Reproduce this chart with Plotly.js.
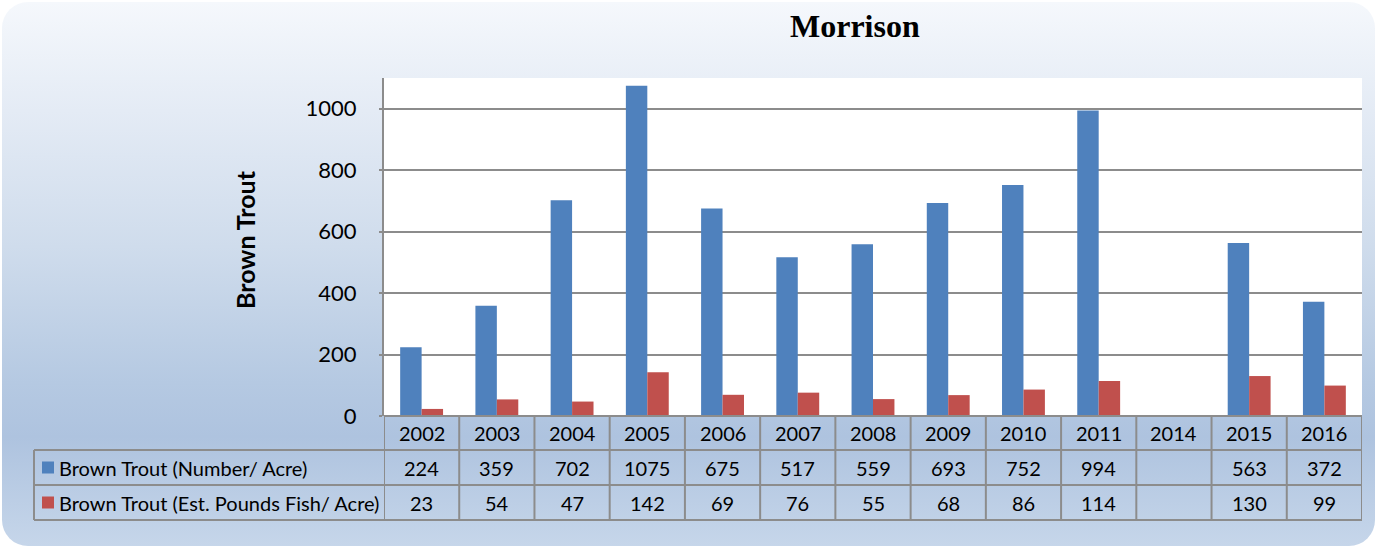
<!DOCTYPE html>
<html>
<head>
<meta charset="utf-8">
<script src="https://cdn.plot.ly/plotly-3.0.1.min.js"></script>
<style>
  html, body { margin: 0; padding: 0; background: #ffffff; }
  #bg {
    position: absolute; left: 2px; top: 2px; width: 1373px; height: 544px;
    border-radius: 26px;
    background: linear-gradient(to bottom, #f5f8fc 0%, #e4ebf5 20%, #cfdcec 45%, #b5c9e2 70%, #aec3df 80%, #c6d6ea 100%);
  }
  #chart { position: absolute; left: 0; top: 0; width: 1377px; height: 548px; }
</style>
</head>
<body>
<div id="bg"></div>
<div id="chart"></div>
<script>
// ---- data ----
const years = ['2002','2003','2004','2005','2006','2007','2008','2009','2010','2011','2014','2015','2016'];
const numberPerAcre = [224, 359, 702, 1075, 675, 517, 559, 693, 752, 994, null, 563, 372];
const poundsPerAcre = [23, 54, 47, 142, 69, 76, 55, 68, 86, 114, null, 130, 99];
const seriesNames = ['Brown Trout (Number/ Acre)', 'Brown Trout (Est. Pounds Fish/ Acre)'];
const yTicks = [0, 200, 400, 600, 800, 1000];
const chartTitle = 'Morrison';
const yTitle = 'Brown Trout';

// ---- layout helpers (pixel -> paper) ----
const W = 1377, H = 548;
const L = 384, R = 1362, T = 78, B = 416;
const px = x => (x - L) / (R - L);
const py = y => (B - y) / (B - T);

const colors = ['#4f81bd', '#c0504d'];
const lineCol = '#8c8c8c';
const font = 'Lato, "Open Sans", sans-serif';
const cellSize = 20;

const traces = [
  { type: 'bar', x: years, y: numberPerAcre, name: seriesNames[0], marker: { color: colors[0] }, hoverinfo: 'y' },
  { type: 'bar', x: years, y: poundsPerAcre, name: seriesNames[1], marker: { color: colors[1] }, hoverinfo: 'y' }
];

const rowY = [416, 450, 485, 520];
const shapes = [];
const annotations = [];

// horizontal table lines
shapes.push({ type: 'line', xref: 'paper', yref: 'paper', x0: 0, x1: 1, y0: py(rowY[0]), y1: py(rowY[0]), line: { color: lineCol, width: 2 } });
for (let r = 1; r < rowY.length; r++) {
  shapes.push({ type: 'line', xref: 'paper', yref: 'paper', x0: px(34), x1: 1, y0: py(rowY[r]), y1: py(rowY[r]), line: { color: lineCol, width: 2 } });
}
// vertical table lines (category boundaries)
for (let i = 0; i <= years.length; i++) {
  shapes.push({ type: 'line', xref: 'x', yref: 'paper', x0: i - 0.5, x1: i - 0.5, y0: py(rowY[0]), y1: py(rowY[3]), line: { color: lineCol, width: 2 } });
}
// left edge of the legend column
shapes.push({ type: 'line', xref: 'paper', yref: 'paper', x0: px(34), x1: px(34), y0: py(rowY[1]), y1: py(rowY[3]), line: { color: lineCol, width: 2 } });

// legend keys + names
const series = [numberPerAcre, poundsPerAcre];
for (let s = 0; s < 2; s++) {
  const cy = (rowY[s + 1] + rowY[s + 2]) / 2;
  shapes.push({ type: 'rect', xref: 'paper', yref: 'paper', x0: px(42), x1: px(54), y0: py(cy - 6), y1: py(cy + 6), fillcolor: colors[s], line: { width: 0 } });
  annotations.push({ xref: 'paper', yref: 'paper', x: px(57), y: py(cy), xanchor: 'left', yanchor: 'middle', showarrow: false,
    text: seriesNames[s], font: { family: font, size: cellSize, color: '#000' } });
}

// header row (years) and value cells — positioned by category index on the x axis
const headY = (rowY[0] + rowY[1]) / 2;
years.forEach((yr, i) => {
  annotations.push({ xref: 'x', yref: 'paper', x: i, y: py(headY), xanchor: 'center', yanchor: 'middle', showarrow: false,
    text: yr, font: { family: font, size: cellSize, color: '#000' } });
  for (let s = 0; s < 2; s++) {
    const v = series[s][i];
    if (v === null) continue;
    const cy = (rowY[s + 1] + rowY[s + 2]) / 2;
    annotations.push({ xref: 'x', yref: 'paper', x: i, y: py(cy), xanchor: 'center', yanchor: 'middle', showarrow: false,
      text: String(v), font: { family: font, size: cellSize, color: '#000' } });
  }
});

// titles
annotations.push({ xref: 'paper', yref: 'paper', x: px(855), y: py(26), xanchor: 'center', yanchor: 'middle', showarrow: false,
  text: '<b>' + chartTitle + '</b>', font: { family: '"Liberation Serif", "Times New Roman", serif', size: 32, color: '#000' } });
annotations.push({ xref: 'paper', yref: 'paper', x: px(245), y: py(240), xanchor: 'center', yanchor: 'middle', showarrow: false, textangle: -90,
  text: '<b>' + yTitle + '</b>', font: { family: font, size: 25, color: '#000' } });

const layout = {
  width: W, height: H,
  margin: { l: L, r: W - R, t: T, b: H - B, pad: 0 },
  paper_bgcolor: 'rgba(0,0,0,0)',
  plot_bgcolor: '#ffffff',
  showlegend: false,
  barmode: 'group',
  bargap: 0.43,
  bargroupgap: 0,
  xaxis: { type: 'category', categoryorder: 'array', categoryarray: years, range: [-0.5, years.length - 0.5],
    showticklabels: false, showgrid: false, showline: false, zeroline: false, ticks: '' },
  yaxis: { range: [0, 1100], tickmode: 'array', tickvals: yTicks, ticktext: yTicks.map(String),
    showgrid: true, gridcolor: lineCol, gridwidth: 2, zeroline: false,
    showline: true, linecolor: lineCol, linewidth: 2,
    ticks: 'outside', ticklen: 3, tickcolor: lineCol, tickwidth: 2, ticklabelstandoff: 18,
    tickfont: { family: font, size: 22, color: '#000' } },
  shapes: shapes,
  annotations: annotations,
  font: { family: font }
};

Plotly.newPlot('chart', traces, layout, { displayModeBar: false, staticPlot: true });
</script>
</body>
</html>
